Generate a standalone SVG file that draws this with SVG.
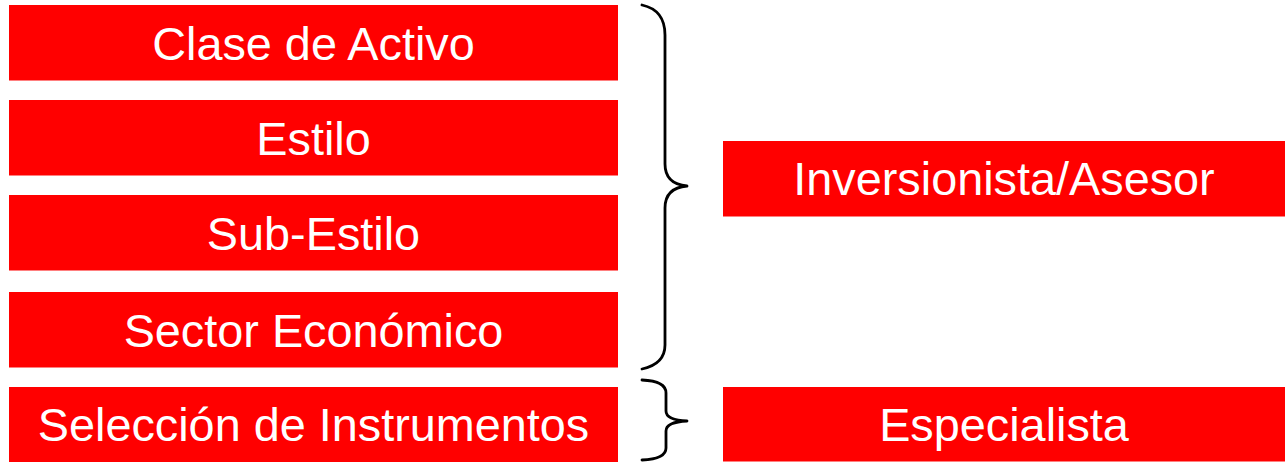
<svg xmlns="http://www.w3.org/2000/svg" width="1285" height="462" viewBox="0 0 1285 462">
<style>
.box{fill:#ff0000}
.lbl{fill:#ffffff;font-family:"Liberation Sans",Arial,sans-serif;font-size:46.8px;text-anchor:middle}
.brace{fill:none;stroke:#000000;stroke-width:2.8;stroke-linecap:round;stroke-linejoin:round}
</style>
<rect width="1285" height="462" fill="#ffffff"/>
<g id="clase"><rect class="box" x="9" y="5" width="609" height="75.5"/><text class="lbl" x="313.5" y="59.5">Clase de Activo</text></g>
<g id="estilo"><rect class="box" x="9" y="100" width="609" height="75.5"/><text class="lbl" x="313.5" y="154.5">Estilo</text></g>
<g id="subestilo"><rect class="box" x="9" y="195" width="609" height="75.5"/><text class="lbl" x="313.5" y="249.5">Sub-Estilo</text></g>
<g id="sector"><rect class="box" x="9" y="292" width="609" height="75.5"/><text class="lbl" x="313.5" y="346.5">Sector Económico</text></g>
<g id="seleccion"><rect class="box" x="9" y="387" width="609" height="75"/><text class="lbl" x="313.5" y="441.3">Selección de Instrumentos</text></g>
<g id="inversionista"><rect class="box" x="723" y="141" width="562" height="75.5"/><text class="lbl" x="1004" y="195.3">Inversionista/Asesor</text></g>
<g id="especialista"><rect class="box" x="723" y="387" width="562" height="74.5"/><text class="lbl" x="1004" y="441.3">Especialista</text></g>
<g id="connectors">
<path class="brace" d="M642,5 Q665,10 665,35 L665,164 Q665,184 687,186 Q665,188 665,208 L665,345 Q665,364 642,369"/>
<path class="brace" d="M642,380 Q666,381 666,393 L666,411 Q666,420 687,421 Q666,422 666,431 L666,448 Q666,459 642,460"/>
</g>
</svg>
